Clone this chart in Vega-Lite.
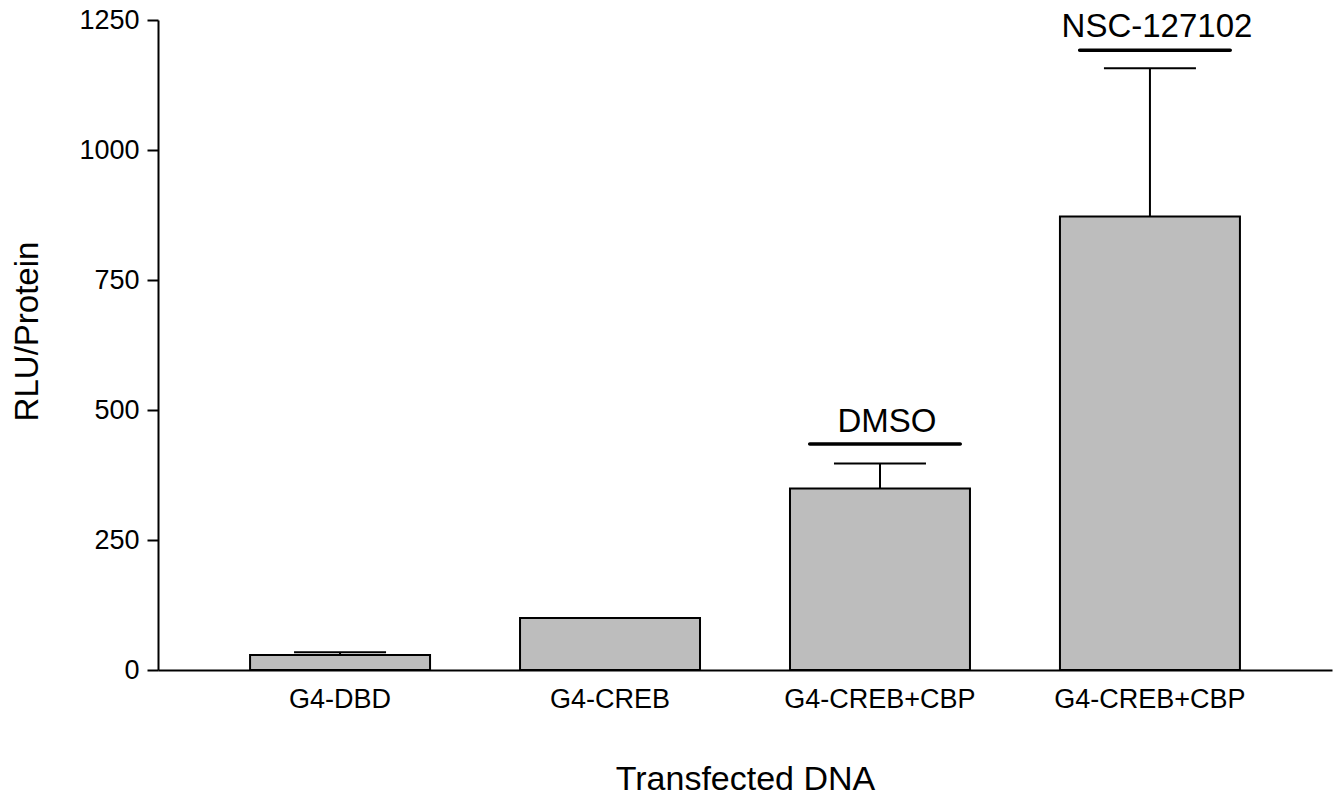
{
  "$schema": "https://vega.github.io/schema/vega-lite/v6.json",
  "width": 1174,
  "height": 650,
  "padding": {"left": 158, "top": 20, "right": 8, "bottom": 126},
  "autosize": {"type": "none"},
  "background": "white",
  "config": {
    "view": {"stroke": null},
    "font": "Liberation Sans",
    "axis": {
      "domainColor": "black",
      "domainWidth": 2,
      "tickColor": "black",
      "tickWidth": 2,
      "labelColor": "black",
      "titleColor": "black",
      "labelFont": "Liberation Sans",
      "titleFont": "Liberation Sans",
      "titleFontWeight": "normal",
      "grid": false,
      "labelFontSize": 27,
      "labelLimit": 0
    },
    "axisX": {
      "titleFontSize": 34,
      "titleY": 119,
      "titleBaseline": "alphabetic",
      "labelAngle": 0,
      "labelBaseline": "top",
      "labelPadding": 16,
      "ticks": false
    },
    "axisY": {
      "titleFontSize": 33,
      "titleX": -121,
      "titleY": 311,
      "titleBaseline": "alphabetic",
      "tickSize": 11,
      "labelPadding": 8
    }
  },
  "datasets": {
    "bars": [
      {"group": "G4-DBD", "value": 29, "err": 34},
      {"group": "G4-CREB", "value": 100, "err": null},
      {"group": "G4-CREB+CBP (DMSO)", "value": 349, "err": 397},
      {"group": "G4-CREB+CBP (NSC-127102)", "value": 872, "err": 1157}
    ],
    "notes": [
      {"group": "G4-CREB+CBP (DMSO)", "note": "DMSO", "line": 434.6, "textLevel": 457.5},
      {"group": "G4-CREB+CBP (NSC-127102)", "note": "NSC-127102", "line": 1192, "textLevel": 1217}
    ]
  },
  "encoding": {
    "x": {
      "field": "group",
      "type": "nominal",
      "sort": ["G4-DBD", "G4-CREB", "G4-CREB+CBP (DMSO)", "G4-CREB+CBP (NSC-127102)"],
      "scale": {"paddingInner": 0.3333, "paddingOuter": 0.341},
      "axis": {
        "title": "Transfected DNA",
        "labelExpr": "split(datum.label, ' (')[0]"
      }
    }
  },
  "layer": [
    {
      "data": {"name": "bars"},
      "mark": {"type": "bar", "fill": "#bdbdbd", "stroke": "black", "strokeWidth": 2},
      "encoding": {
        "y": {
          "field": "value",
          "type": "quantitative",
          "scale": {"domain": [0, 1250], "nice": false},
          "axis": {
            "title": "RLU/Protein",
            "values": [0, 250, 500, 750, 1000, 1250],
            "format": "d"
          }
        }
      }
    },
    {
      "data": {"name": "bars"},
      "transform": [{"filter": "datum.err != null"}],
      "mark": {"type": "rule", "stroke": "black", "strokeWidth": 2},
      "encoding": {
        "y": {"field": "value", "type": "quantitative"},
        "y2": {"field": "err"}
      }
    },
    {
      "data": {"name": "bars"},
      "transform": [{"filter": "datum.err != null"}],
      "mark": {"type": "tick", "orient": "horizontal", "color": "black", "size": 92, "thickness": 2, "opacity": 1},
      "encoding": {
        "y": {"field": "err", "type": "quantitative"}
      }
    },
    {
      "data": {"name": "notes"},
      "mark": {"type": "tick", "orient": "horizontal", "color": "black", "size": 154, "thickness": 3.5, "cornerRadius": 1.75, "xOffset": 5, "opacity": 1},
      "encoding": {
        "y": {"field": "line", "type": "quantitative"}
      }
    },
    {
      "data": {"name": "notes"},
      "mark": {"type": "text", "fontSize": 33, "baseline": "alphabetic", "align": "center", "dx": 7, "color": "black"},
      "encoding": {
        "y": {"field": "textLevel", "type": "quantitative"},
        "text": {"field": "note"}
      }
    }
  ]
}
